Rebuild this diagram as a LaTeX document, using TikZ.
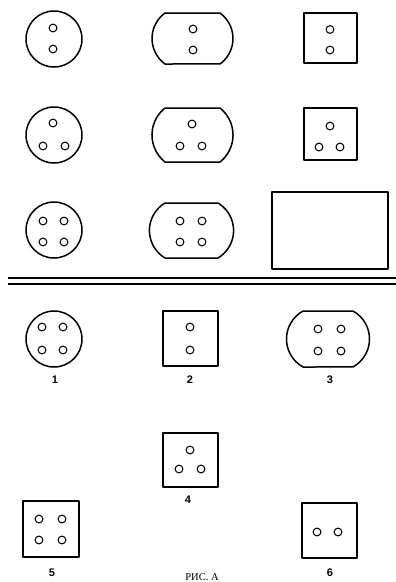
\documentclass[tikz,border=0pt]{standalone}
\usepackage{fontspec}
\newfontfamily\labelfont{Liberation Sans}
\newfontfamily\captfont{Liberation Serif}
\begin{document}
\begin{tikzpicture}[x=1pt,y=-1pt,
  outline/.style={line width=1.5pt, line join=round},
  hole/.style={line width=1.05pt},
  sep/.style={line width=1.1pt},
  lbl/.style={font=\labelfont\bfseries\fontsize{11}{13}\selectfont, inner sep=0pt},
  capt/.style={font=\captfont\fontsize{10.5}{12}\selectfont, inner sep=0pt, anchor=base}]
\useasboundingbox (0,0) rectangle (396,582);
% ---------- row 1 ----------
\draw[outline] (54,39) circle[radius=28pt];
\foreach \p in {(53,28),(53,49)} \draw[hole] \p circle[radius=3.9pt];
\draw[outline] (165,13) -- (220,13) arc[start angle=-54, end angle=54, radius=31.5]
  -- (165,64) arc[start angle=126, end angle=234, radius=31.5] -- cycle;
\foreach \p in {(193,29),(193,50)} \draw[hole] \p circle[radius=3.9pt];
\draw[outline] (304,13) rectangle (357,63);
\foreach \p in {(330,29.5),(330,50)} \draw[hole] \p circle[radius=3.9pt];
% ---------- row 2 ----------
\draw[outline] (54,135) circle[radius=28pt];
\foreach \p in {(53,123),(43,146),(65,146)} \draw[hole] \p circle[radius=3.9pt];
\draw[outline] (165,108) -- (220,108) arc[start angle=-51.5, end angle=51.5, radius=34.5]
  -- (165,162) arc[start angle=128.5, end angle=231.5, radius=34.5] -- cycle;
\foreach \p in {(192,124),(180,146),(202,146)} \draw[hole] \p circle[radius=3.9pt];
\draw[outline] (304,108) rectangle (357,160);
\foreach \p in {(330,126),(319,147),(340,147)} \draw[hole] \p circle[radius=3.9pt];
% ---------- row 3 ----------
\draw[outline] (54,230) circle[radius=28pt];
\foreach \p in {(43,221),(64,221),(43,242),(64,242)} \draw[hole] \p circle[radius=3.9pt];
\draw[outline] (165,203) -- (218,203) arc[start angle=-59, end angle=59, radius=32.1]
  -- (165,258) arc[start angle=121, end angle=239, radius=32.1] -- cycle;
\foreach \p in {(180,221),(202,221),(180,242),(202,242)} \draw[hole] \p circle[radius=3.9pt];
\draw[outline] (272,192) rectangle (388,269);
% ---------- separator ----------
\draw[sep] (8,278) -- (396,278);
\draw[sep] (8,284) -- (396,284);
% ---------- lower part ----------
\draw[outline] (54,339) circle[radius=28pt];
\foreach \p in {(42,327),(63,327),(42,350),(63,350)} \draw[hole] \p circle[radius=3.9pt];
\node[lbl] (l1) at (55,380) {1};
\draw[outline] (163,311) rectangle (218,366);
\foreach \p in {(190,327),(190,350)} \draw[hole] \p circle[radius=3.9pt];
\node[lbl] (l2) at (190,380) {2};
\draw[outline] (303,311) -- (353,311) arc[start angle=-61, end angle=61, radius=32]
  -- (303,367) arc[start angle=119, end angle=241, radius=32] -- cycle;
\foreach \p in {(318,329),(341,329),(318,351),(341,351)} \draw[hole] \p circle[radius=3.9pt];
\node[lbl] (l3) at (330,380) {3};
\draw[outline] (163,433) rectangle (218,487);
\foreach \p in {(190,450),(179,469),(201,469)} \draw[hole] \p circle[radius=3.9pt];
\node[lbl] (l4) at (188,500) {4};
\draw[outline] (23,501) rectangle (79,557);
\foreach \p in {(39,519),(62,519),(39,540),(62,540)} \draw[hole] \p circle[radius=3.9pt];
\node[lbl] (l5) at (52,573) {5};
\draw[outline] (302,503) rectangle (357,558);
\foreach \p in {(317,532),(338,532)} \draw[hole] \p circle[radius=3.9pt];
\node[lbl] (l6) at (330,573) {6};
\node[capt] (cap) at (202,580.5) {РИС. А};
\end{tikzpicture}
\end{document}
